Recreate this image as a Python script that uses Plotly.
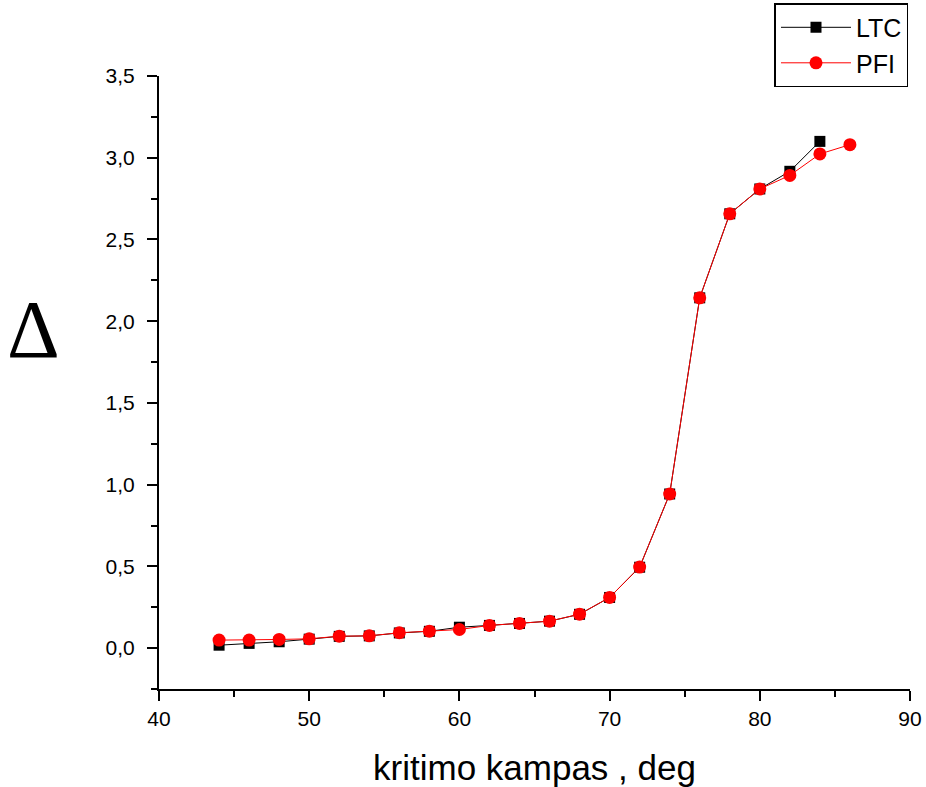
import plotly.graph_objects as go

ltc_x = [44, 46, 48, 50, 52, 54, 56, 58, 60, 62, 64, 66, 68, 70, 72, 74, 76, 78, 80, 82, 84]
ltc_y = [0.018, 0.029, 0.039, 0.055, 0.072, 0.075, 0.093, 0.103, 0.128, 0.139, 0.151, 0.165, 0.207, 0.31, 0.495, 0.943, 2.143, 2.657, 2.809, 2.917, 3.10]

pfi_x = [44, 46, 48, 50, 52, 54, 56, 58, 60, 62, 64, 66, 68, 70, 72, 74, 76, 78, 80, 82, 84, 86]
pfi_y = [0.049, 0.049, 0.053, 0.057, 0.073, 0.075, 0.094, 0.104, 0.114, 0.139, 0.151, 0.165, 0.208, 0.31, 0.496, 0.943, 2.143, 2.657, 2.809, 2.892, 3.023, 3.08]

x_title = "kritimo kampas , deg"
y_title = "Δ"

fig = go.Figure()
fig.add_trace(go.Scatter(
    x=ltc_x, y=ltc_y, name="LTC", mode="lines+markers",
    line=dict(color="black", width=1),
    marker=dict(symbol="square", size=11, color="black"),
))
fig.add_trace(go.Scatter(
    x=pfi_x, y=pfi_y, name="PFI", mode="lines+markers",
    line=dict(color="#ff0000", width=1),
    marker=dict(symbol="circle", size=13, color="#ff0000"),
))

axis_common = dict(
    showline=True, linecolor="black", linewidth=2, mirror=False,
    showgrid=False, zeroline=False, automargin=False,
    ticks="outside", ticklen=10, tickwidth=2, tickcolor="black",
    tickfont=dict(family="Liberation Sans", size=21, color="black"),
)

fig.update_xaxes(
    range=[40, 90], dtick=10, tick0=40,
    minor=dict(ticks="outside", ticklen=6, tickwidth=2, tickcolor="black", dtick=5, showgrid=False),
    title=dict(text=x_title, font=dict(family="Liberation Sans", size=35, color="black"), standoff=26),
    **axis_common,
)
fig.update_yaxes(
    range=[-0.25, 3.5], dtick=0.5, tick0=0, tickformat=".1f",
    minor=dict(ticks="outside", ticklen=6, tickwidth=2, tickcolor="black", dtick=0.25, tick0=0, showgrid=False),
    ticklabelstandoff=8,
    **axis_common,
)

fig.add_annotation(
    text=y_title, xref="paper", yref="paper", x=-0.167, y=0.587,
    showarrow=False, font=dict(family="Liberation Serif", size=82, color="black"),
    xanchor="center", yanchor="middle",
)

fig.update_layout(
    width=926, height=787,
    margin=dict(l=159, r=16, t=76, b=98, autoexpand=False),
    paper_bgcolor="white", plot_bgcolor="white",
    separators=",.",
    showlegend=True,
    legend=dict(
        x=0.998, y=1.119, xanchor="right", yanchor="top",
        bgcolor="white", bordercolor="black", borderwidth=1.5,
        font=dict(family="Liberation Sans", size=25, color="black"),
        itemwidth=70, tracegroupgap=0,
    ),
)

fig.write_html("out.html")
